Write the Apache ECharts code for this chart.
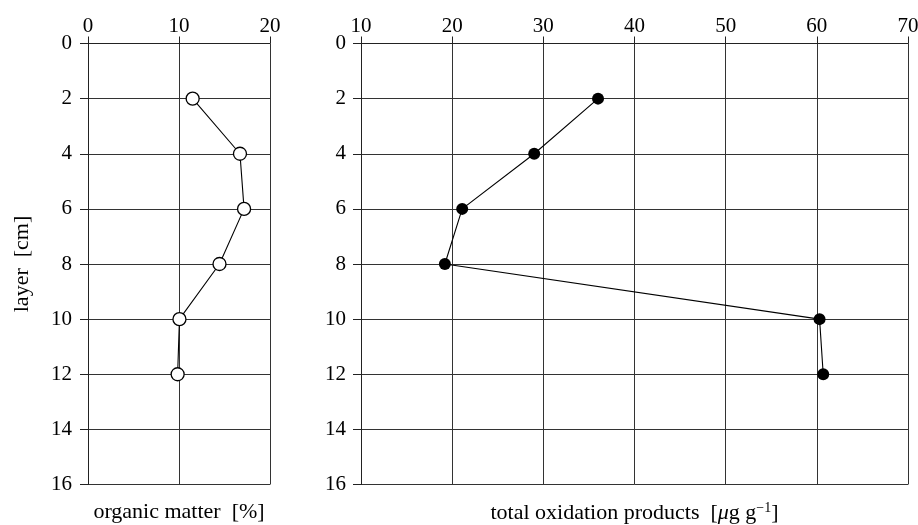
<!DOCTYPE html>
<html><head><meta charset="utf-8">
<script src="https://cdn.jsdelivr.net/npm/echarts@6/dist/echarts.min.js"></script>
<style>html,body{margin:0;padding:0;background:#fff}#c{width:918px;height:525px}</style>
</head><body><div id="c"></div>
<script>
// ---- data ----
const layers = [2, 4, 6, 8, 10, 12];
const organicMatter = [11.5, 16.7, 17.15, 14.45, 10.05, 9.85];
const oxidationProducts = [36.0, 29.0, 21.1, 19.2, 60.3, 60.7];
const layerAxis = { min: 0, max: 16, interval: 2 };
const omAxis = { min: 0, max: 20, interval: 10 };
const oxAxis = { min: 10, max: 70, interval: 10 };
const omTitle = 'organic matter  [%]';
const oxTitle = 'total oxidation products  [{i|\u03bc}g g{sup|\u22121}]';
const layerTitle = 'layer  [cm]';

// ---- styles ----
const FONT = 'Liberation Serif';
const lineC = '#222';
const gridC = '#333';
const TICK_FS = 21;
const TITLE_FS = 22;

function topX(grid, ax) {
  return {
    gridIndex: grid, type: 'value', position: 'top',
    min: ax.min, max: ax.max, interval: ax.interval,
    axisLine: { show: true, lineStyle: { color: lineC, width: 1 } },
    axisTick: { show: true, inside: false, length: 7, lineStyle: { color: lineC, width: 1 } },
    axisLabel: { margin: 7, fontSize: TICK_FS, color: '#000', fontFamily: FONT, hideOverlap: false },
    splitLine: { show: true, lineStyle: { color: gridC, width: 1 } }
  };
}
function bottomX(grid, ax, name) {
  return {
    gridIndex: grid, type: 'value', position: 'bottom',
    min: ax.min, max: ax.max, interval: ax.interval,
    axisLine: { show: false }, axisTick: { show: false },
    axisLabel: { show: false }, splitLine: { show: false },
    name: name, nameLocation: 'middle', nameGap: 17,
    nameTextStyle: {
      fontSize: TITLE_FS, color: '#000', fontFamily: FONT,
      rich: {
        i: { fontSize: TITLE_FS, fontStyle: 'italic', fontFamily: FONT, color: '#000' },
        sup: { fontSize: 14, fontFamily: FONT, color: '#000', verticalAlign: 'bottom', padding: [0, 0, 10, 0] }
      }
    }
  };
}
function leftY(grid, name, margin) {
  const a = {
    gridIndex: grid, type: 'value', inverse: true,
    min: layerAxis.min, max: layerAxis.max, interval: layerAxis.interval,
    axisLine: { show: true, lineStyle: { color: lineC, width: 1 } },
    axisTick: { show: true, inside: false, length: 8, lineStyle: { color: lineC, width: 1 } },
    axisLabel: { margin: margin, fontSize: TICK_FS, color: '#000', fontFamily: FONT },
    splitLine: { show: true, lineStyle: { color: gridC, width: 1 } }
  };
  if (name) {
    a.name = name; a.nameLocation = 'middle'; a.nameGap = 55; a.nameRotate = 90;
    a.nameTextStyle = { fontSize: TITLE_FS, color: '#000', fontFamily: FONT };
  }
  return a;
}

const option = {
  animation: false,
  backgroundColor: '#fff',
  grid: [
    { left: 88, top: 43.5, width: 182, height: 441, outerBoundsMode: 'none', containLabel: false },
    { left: 361, top: 43.5, width: 547, height: 441, outerBoundsMode: 'none', containLabel: false }
  ],
  xAxis: [topX(0, omAxis), topX(1, oxAxis), bottomX(0, omAxis, omTitle), bottomX(1, oxAxis, oxTitle)],
  yAxis: [leftY(0, layerTitle, 16), leftY(1, null, 15)],
  series: [
    {
      type: 'line', xAxisIndex: 0, yAxisIndex: 0,
      data: layers.map((l, i) => [organicMatter[i], l]),
      symbol: 'circle', symbolSize: 13,
      itemStyle: { color: '#fff', borderColor: '#000', borderWidth: 1.3 },
      lineStyle: { color: '#000', width: 1.1 }
    },
    {
      type: 'line', xAxisIndex: 1, yAxisIndex: 1,
      data: layers.map((l, i) => [oxidationProducts[i], l]),
      symbol: 'circle', symbolSize: 12,
      itemStyle: { color: '#000', borderColor: '#000', borderWidth: 0 },
      lineStyle: { color: '#000', width: 1.1 }
    }
  ]
};
const chart = echarts.init(document.getElementById('c'), null, { renderer: 'canvas' });
chart.setOption(option);
</script>
</body></html>
